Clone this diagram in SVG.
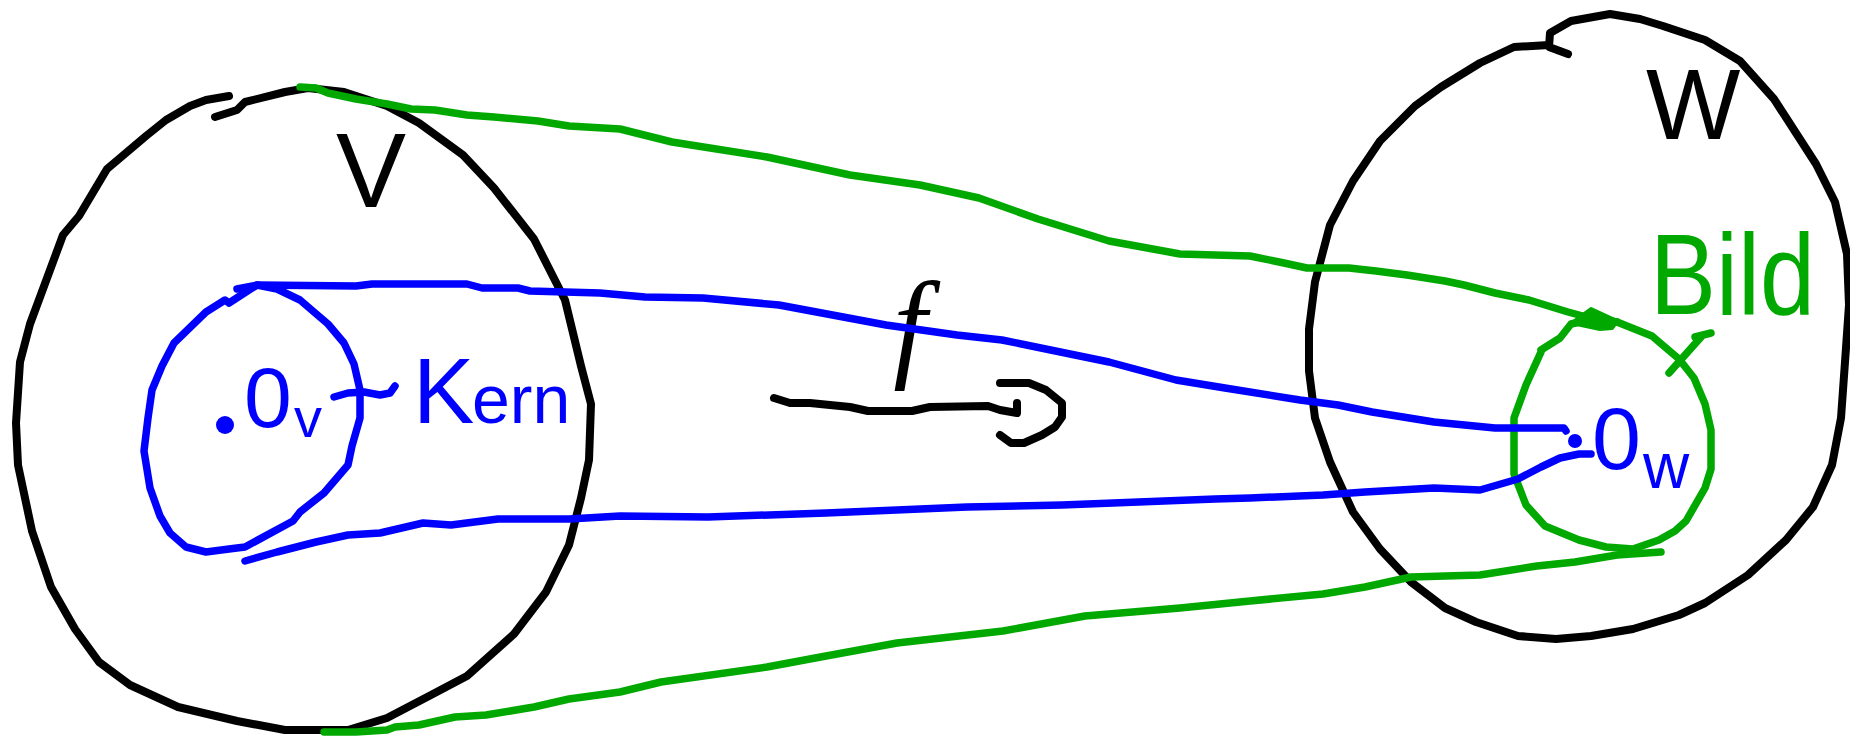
<svg xmlns="http://www.w3.org/2000/svg" width="1850" height="736" viewBox="0 0 1850 736">
<style>
.k{fill:none;stroke:#000;stroke-width:8;stroke-linecap:round;stroke-linejoin:round}
.b{fill:none;stroke:#0000ff;stroke-width:7.5;stroke-linecap:round;stroke-linejoin:round}
.g{fill:none;stroke:#00a800;stroke-width:7.5;stroke-linecap:round;stroke-linejoin:round}
.tk{font-family:"Liberation Sans",Arial,sans-serif;fill:#000}
.tb{font-family:"Liberation Sans",Arial,sans-serif;fill:#0000ff}
.tg{font-family:"Liberation Sans",Arial,sans-serif;fill:#00a800}
</style>
<rect width="1850" height="736" fill="#fff"/>
<g id="space-V">
<polyline class="k" points="215,117 237,110 245,102 285,92 308,88 344,92 387,106 419,123 463,155 494,188 534,239 565,300 581,366 591,404 589,460 581,498 569,545 546,592 514,634 467,676 431,695 387,718 348,730 285,730 237,721 178,707 130,685 99,662 75,629 51,587 32,531 18,465 16,423 20,362 30,324 63,235 79,216 107,169 146,136 166,120 190,106 206,100 229,96"/>
<text class="tk" x="336" y="207" font-size="105">V</text>
</g>
<g id="space-W">
<polyline class="k" points="1568,54 1549,47 1550,33 1571,21 1610,14 1640,19 1663,26 1705,40 1740,61 1774,99 1816,164 1835,202 1847,254 1849,305 1845,362 1841,418 1832,465 1813,507 1786,540 1748,575 1705,603 1679,615 1633,629 1591,636 1556,639 1518,636 1476,622 1445,608 1411,582 1380,549 1353,512 1330,462 1315,418 1309,371 1309,329 1315,282 1330,225 1353,181 1380,141 1415,106 1441,87 1480,63 1514,47 1549,45"/>
<text class="tk" x="1646" y="139" font-size="100">W</text>
</g>
<g id="kern">
<polyline class="b" points="229,303 257,285 277,289 300,300 328,324 344,343 354,364 360,390 360,418 352,446 348,465 336,479 324,493 300,512 293,521 245,547 229,549 206,552 186,547 170,533 160,516 150,488 144,451 148,418 152,390 162,366 174,343 206,312 225,300 229,303"/>
<circle cx="225" cy="425" r="9" fill="#0000ff"/>
<text class="tb" x="244" y="427" font-size="86">0<tspan x="294" y="437" font-size="56">v</tspan></text>
<polyline class="b" points="334,397 348,393 364,392 380,395 390,393 395,386"/>
<text class="tb" x="413" y="423" font-size="92">K<tspan x="472" font-size="68">ern</tspan></text>
</g>
<g id="bild">
<polyline class="g" points="1541,350 1560,338 1571,324 1594,319 1617,322 1652,336 1679,359 1694,378 1705,404 1711,430 1711,469 1705,488 1686,521 1675,531 1659,540 1633,549 1606,547 1579,540 1545,526 1526,505 1514,474 1514,418 1526,385 1541,352"/>
<polyline class="g" points="1669,373 1702,336 1695,337 1711,333"/>
<text class="tg" x="1650" y="314" font-size="115" textLength="165" lengthAdjust="spacingAndGlyphs">Bild</text>
<circle cx="1575" cy="441" r="7" fill="#0000ff"/>
<text class="tb" x="1592" y="469" font-size="88">0<tspan x="1643" y="488" font-size="64">w</tspan></text>
</g>
<g id="map-f">
<text x="910" y="365" font-family="Liberation Serif,serif" font-style="italic" font-size="120" text-anchor="middle" fill="#000">f</text>
<polyline class="k" points="774,398 790,403 810,403 850,407 868,411 912,411 930,407 988,406 1000,410 1017,413 1017,403"/>
<polyline class="k" points="1000,383 1029,383 1046,390 1062,403 1062,417 1055,427 1042,435 1024,443 1011,443 1000,435"/>
</g>
<g id="connectors">
<polyline class="b" points="237,289 257,285 356,286 372,284 467,284 482,288 518,288 530,291 600,293 645,297 703,298 779,305 886,325 957,335 1002,340 1109,362 1176,380 1225,388 1300,400 1338,405 1372,412 1434,422 1495,428 1564,428 1566,431"/>
<polyline class="b" points="245,561 277,552 316,542 348,535 380,533 423,523 451,525 498,519 569,519 620,516 708,517 826,513 967,507 1062,505 1215,499 1250,498 1323,495 1365,492 1434,488 1480,490 1518,479 1541,467 1560,458 1579,454 1591,454"/>
<polyline class="g" points="300,87 316,88 328,93 356,99 387,104 411,109 435,110 467,115 494,117 538,121 569,126 620,129 672,142 767,157 850,175 920,185 979,198 1038,219 1109,241 1180,254 1250,256 1284,263 1307,268 1349,268 1376,271 1407,275 1445,281 1464,285 1495,293 1529,300 1568,312 1594,319 1617,322"/>
<polygon points="1591,309 1617,321 1612,328 1600,329 1572,323" fill="#00a800" stroke="#00a800" stroke-width="4" stroke-linejoin="round"/>
<polyline class="g" points="324,732 356,732 387,730 395,727 419,725 455,717 486,715 534,707 569,699 620,692 661,682 767,667 826,656 897,643 1003,631 1085,616 1180,608 1250,601 1323,594 1365,587 1411,577 1480,575 1537,566 1575,562 1617,555 1661,552"/>
</g>
</svg>
